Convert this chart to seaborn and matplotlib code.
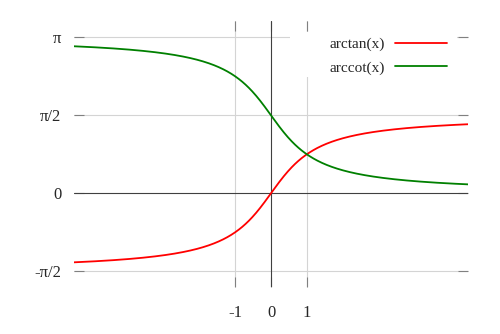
import numpy as np
import pandas as pd
import matplotlib
matplotlib.use("Agg")
import matplotlib.pyplot as plt
from matplotlib.patches import Rectangle
import seaborn as sns

# Sample points along the x axis and the two inverse trigonometric functions
x = np.linspace(-5.5, 5.5, 600)
arctan_y = np.arctan(x)
arccot_y = np.pi / 2 - np.arctan(x)

series_names = ["arctan(x)", "arccot(x)"]
series_colors = ["#ff0000", "#008000"]

x_ticks = [-1, 0, 1]
x_tick_labels = ["-1", "0", "1"]
y_ticks = [-np.pi / 2, 0, np.pi / 2, np.pi]
y_tick_labels = ["-π/2", "0", "π/2", "π"]

df = pd.DataFrame({
    "x": np.concatenate([x, x]),
    "y": np.concatenate([arctan_y, arccot_y]),
    "f": [series_names[0]] * len(x) + [series_names[1]] * len(x),
})

sns.set_style("white")
plt.rcParams["font.family"] = ["Liberation Serif", "DejaVu Serif"]

fig = plt.figure(figsize=(5.0, 3.34), dpi=100)
ax = fig.add_axes([0.148, 0.14, 0.788, 0.797])

grid_c = "#d4d4d4"
for gx in [-1, 1]:
    ax.axvline(gx, color=grid_c, lw=0.8, zorder=0)
for gy in [-np.pi / 2, np.pi / 2, np.pi]:
    ax.axhline(gy, color=grid_c, lw=0.8, zorder=0)
ax.axvline(0, color="#404040", lw=0.8, zorder=1)
ax.axhline(0, color="#404040", lw=0.8, zorder=1)

sns.lineplot(data=df, x="x", y="y", hue="f", palette=series_colors,
             hue_order=series_names, linewidth=1.3, ax=ax, zorder=3,
             legend=True)

ax.set_xlim(-5.5, 5.5)
ax.set_ylim(-1.893, 3.47)
ax.set_xlabel("")
ax.set_ylabel("")
for s in ax.spines.values():
    s.set_visible(False)

ax.set_xticks(x_ticks)
ax.set_xticklabels(x_tick_labels)
ax.set_yticks(y_ticks)
ax.set_yticklabels(y_tick_labels)
ax.tick_params(axis="both", direction="in", length=7.5, width=0.8,
               color="#808080", labelsize=12, top=True, right=True,
               bottom=True, left=True)
ax.tick_params(axis="x", pad=13)
ax.tick_params(axis="y", pad=9)

# White key box that masks the grid behind the legend
ax.add_patch(Rectangle((0.548, 0.79), 0.424, 0.169, transform=ax.transAxes,
                       facecolor="white", edgecolor="none", zorder=4))

leg = ax.legend(loc="upper right", bbox_to_anchor=(0.959, 0.955),
                frameon=False, markerfirst=False,
                fontsize=11, handlelength=3.45, handletextpad=0.63,
                labelspacing=0.6, borderpad=0.3, borderaxespad=0.0)
leg.set_zorder(5)

fig.savefig("out.png", dpi=100)
